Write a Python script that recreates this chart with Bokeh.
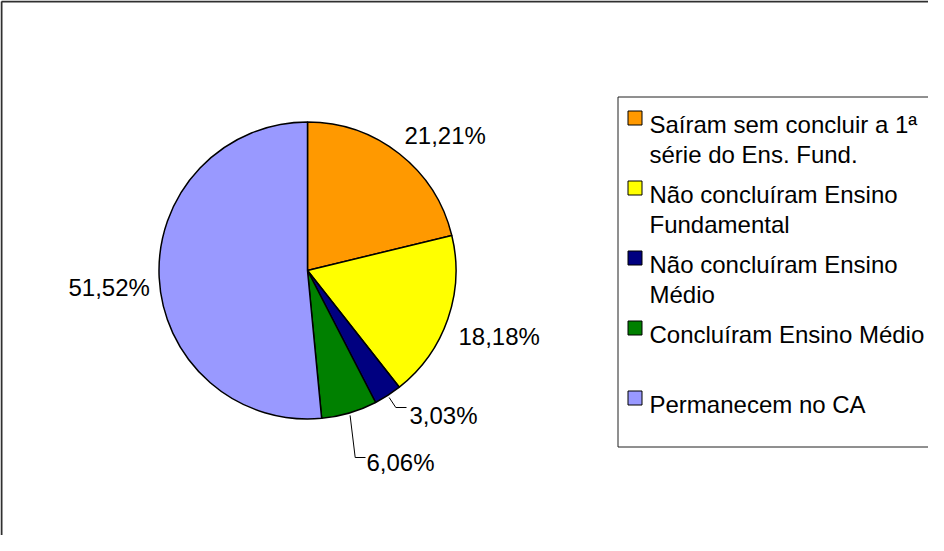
import math
from bokeh.plotting import figure
from bokeh.models import Range1d, ColumnDataSource
from bokeh.core.properties import value
from bokeh.embed import file_html
from bokeh.resources import INLINE

# ---- data ----
categories = [
    "Saíram sem concluir a 1ª\nsérie do Ens. Fund.",
    "Não concluíram Ensino\nFundamental",
    "Não concluíram Ensino\nMédio",
    "Concluíram Ensino Médio",
    "Permanecem no CA",
]
percentages = [21.21, 18.18, 3.03, 6.06, 51.52]
pct_labels = ["21,21%", "18,18%", "3,03%", "6,06%", "51,52%"]
colors = ["#FF9900", "#FFFF00", "#000080", "#008000", "#9999FF"]

# ---- layout (page pixel coordinates; figure sits at page (8, 8)) ----
W, H = 928, 535
X_MAX = 8 + W
Y_BOTTOM_PAGE = 8 + H
FONT = value("Liberation Sans")


def sy(v):
    # convert a page y (top-down) to data y (bottom-up)
    return 551 - v


p = figure(width=W, height=H, x_range=Range1d(8, X_MAX), y_range=Range1d(sy(Y_BOTTOM_PAGE), sy(8)),
           output_backend="svg", toolbar_location=None,
           x_axis_type=None, y_axis_type=None, min_border=0,
           outline_line_color=None, background_fill_color="white",
           border_fill_color="white")
p.grid.visible = False

# outer chart border: only its left and top edges are inside the window
p.multi_line(xs=[[9, 9], [9, X_MAX]], ys=[[sy(Y_BOTTOM_PAGE), sy(9)], [sy(9), sy(9)]],
             line_color="#303030", line_width=2)

# ---- pie ----
cx, cy, r = 315, sy(278), 148.5
total = sum(percentages)
starts, ends, mids = [], [], []
cum = 0.0
for v in percentages:
    a0 = math.pi / 2 - 2 * math.pi * cum / total
    cum += v
    a1 = math.pi / 2 - 2 * math.pi * cum / total
    starts.append(a1)
    ends.append(a0)
    mids.append((a0 + a1) / 2)

src = ColumnDataSource(dict(start=starts, end=ends, color=colors))
p.wedge(x=cx, y=cy, radius=r, start_angle="start", end_angle="end",
        fill_color="color", line_color="black", line_width=1.5, source=src)

# ---- data labels (slice order) ----
label_x = [412, 466, 417, 374, 76]
label_base = [143, 344, 423, 470, 295]
p.text(x=label_x, y=[sy(b) for b in label_base], text=pct_labels,
       text_font=FONT, text_font_size="24px", text_baseline="alphabetic",
       text_align="left", text_color="black")

# leader lines for the small slices (index 2 and 3)
elbows = {2: ((403.3, 415), (414, 415)), 3: ((362.7, 465), (373, 465))}
xs, ys = [], []
for i, (e1, e2) in elbows.items():
    x0 = cx + (r + 2.5) * math.cos(mids[i])
    y0 = cy + (r + 2.5) * math.sin(mids[i])
    xs.append([x0, e1[0], e2[0]])
    ys.append([y0, sy(e1[1]), sy(e2[1])])
p.multi_line(xs=xs, ys=ys, line_color="black", line_width=1)

# ---- legend box: top, left and bottom edges (right edge is off-window) ----
lb_l, lb_t, lb_b = 625.5, 104.5, 454.5
p.multi_line(xs=[[X_MAX, lb_l, lb_l, X_MAX]],
             ys=[[sy(lb_t), sy(lb_t), sy(lb_b), sy(lb_b)]],
             line_color="#202020", line_width=1)

first_base = 132
step = 70
line_gap = 30
lx, ly, lt = [], [], []
sq_y = []
for i, cat in enumerate(categories):
    b = first_base + step * i
    sq_y.append(sy(b - 6.5))
    for j, line in enumerate(cat.split("\n")):
        lx.append(657)
        ly.append(sy(b + line_gap * j))
        lt.append(line)

p.rect(x=[642.5] * len(categories), y=sq_y, width=14, height=14,
       fill_color=colors, line_color="black", line_width=1)
p.text(x=lx, y=ly, text=lt, text_font=FONT, text_font_size="24px",
       text_baseline="alphabetic", text_align="left", text_color="black")

open("out.html", "w").write(file_html(p, INLINE))
